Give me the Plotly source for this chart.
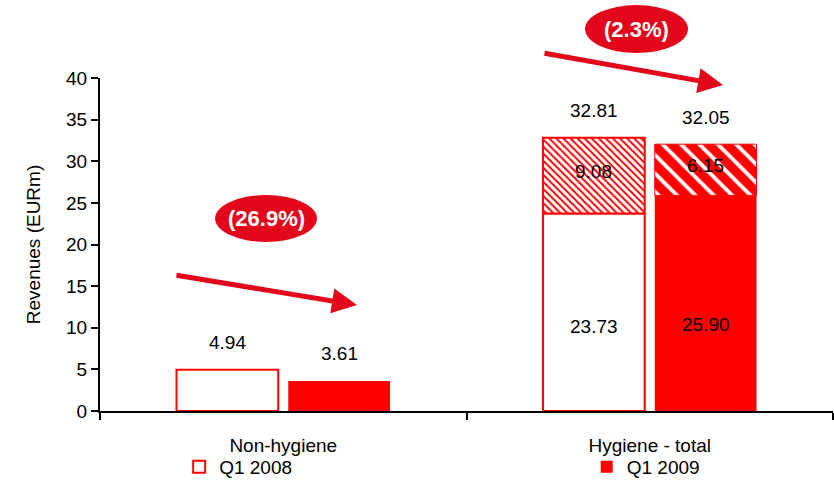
import plotly.graph_objects as go

# Revenue split, EURm
categories = ["Non-hygiene", "Hygiene - total"]
base_2008 = [4.94, 23.73]
top_2008 = [None, 9.08]
base_2009 = [3.61, 25.90]
top_2009 = [None, 6.15]
series_names = ["Q1 2008", "Q1 2009"]
y_ticks = [0, 5, 10, 15, 20, 25, 30, 35, 40]

RED = "#FF0000"
CALLOUT_RED = "#E2071A"
FONT = "Liberation Sans, Arial, sans-serif"
FS = 19
BARGAP = 0.39
BARGROUPGAP = 0.09


def totals(base, top):
    return [b + (t or 0) for b, t in zip(base, top)]


tot_2008 = totals(base_2008, top_2008)
tot_2009 = totals(base_2009, top_2009)

top_x = [c for c, t in zip(categories, top_2008) if t is not None]

fig = go.Figure()

fig.add_trace(go.Bar(
    x=categories, y=base_2008, name=series_names[0], offsetgroup="a", legend="legend",
    marker=dict(color="white", line=dict(color=RED, width=2)),
))
fig.add_trace(go.Bar(
    x=top_x, y=[t for t in top_2008 if t is not None],
    base=[b for b, t in zip(base_2008, top_2008) if t is not None],
    offsetgroup="a", showlegend=False,
    marker=dict(color="white", line=dict(color=RED, width=2),
                pattern=dict(shape="\\", fgcolor=RED, bgcolor="white",
                             size=5, solidity=0.4, fillmode="replace")),
))
fig.add_trace(go.Bar(
    x=categories, y=base_2009, name=series_names[1], offsetgroup="b", legend="legend2",
    marker=dict(color=RED, line=dict(color=RED, width=0)),
))
fig.add_trace(go.Bar(
    x=top_x, y=[t for t in top_2009 if t is not None],
    base=[b for b, t in zip(base_2009, top_2009) if t is not None],
    offsetgroup="b", showlegend=False,
    marker=dict(color=RED, line=dict(color=RED, width=1),
                pattern=dict(shape="\\", fgcolor="white", bgcolor=RED,
                             size=13, solidity=0.3, fillmode="replace")),
))

# centre of each bar within its category slot
half = (1 - BARGAP) / 4
offsets = [-half, half]
inner_shift = [-14, -21]

annotations = []
label_font = dict(family=FONT, size=FS, color="black")
for s, (base, top, tot) in enumerate([(base_2008, top_2008, tot_2008),
                                      (base_2009, top_2009, tot_2009)]):
    for i in range(len(categories)):
        x = i + offsets[s]
        annotations.append(dict(x=x, y=tot[i], xref="x", yref="y",
                                text=f"{tot[i]:.2f}", showarrow=False,
                                yshift=27, font=label_font))
        if top[i] is not None:
            annotations.append(dict(x=x, y=base[i] / 2, xref="x", yref="y",
                                    text=f"{base[i]:.2f}", showarrow=False,
                                    yshift=inner_shift[s], font=label_font))
            annotations.append(dict(x=x, y=base[i] + top[i] / 2, xref="x", yref="y",
                                    text=f"{top[i]:.2f}", showarrow=False,
                                    yshift=4, font=label_font))

# change callouts: ellipse bounds (paper), arrow tip (paper) and tail offset (px)
changes = [(tot_2009[i] - tot_2008[i]) / tot_2008[i] * 100 for i in range(len(categories))]
callouts = [
    dict(ellipse=(0.157, 0.296, 0.5075, 0.6486), tip=(0.3506, 0.3183), tail=(-182, -30)),
    dict(ellipse=(0.6617, 0.8022, 1.075, 1.219), tip=(0.850, 0.979), tail=(-180, -32)),
]
shapes = []
for chg, c in zip(changes, callouts):
    x0, x1, y0, y1 = c["ellipse"]
    shapes.append(dict(type="circle", xref="paper", yref="paper",
                       x0=x0, x1=x1, y0=y0, y1=y1,
                       fillcolor=CALLOUT_RED, line=dict(width=0)))
    pct = f"({abs(chg):.1f}%)" if chg < 0 else f"{chg:.1f}%"
    annotations.append(dict(x=(x0 + x1) / 2, y=(y0 + y1) / 2, xref="paper", yref="paper",
                            xanchor="center", yanchor="middle",
                            text=f"<b>{pct}</b>", showarrow=False,
                            font=dict(family=FONT, size=22, color="white")))
    annotations.append(dict(x=c["tip"][0], y=c["tip"][1], xref="paper", yref="paper",
                            ax=c["tail"][0], ay=c["tail"][1], text="",
                            showarrow=True, arrowhead=2, arrowsize=1.0,
                            arrowwidth=5, arrowcolor=CALLOUT_RED, standoff=0))

legend_style = dict(orientation="h", y=-0.168, xanchor="left", yanchor="middle",
                    font=dict(family=FONT, size=FS, color="black"),
                    bgcolor="rgba(0,0,0,0)", borderwidth=0, tracegroupgap=0)

fig.update_layout(
    width=834, height=482,
    margin=dict(l=100, r=1, t=78, b=71, autoexpand=False),
    paper_bgcolor="white", plot_bgcolor="white",
    barmode="group", bargap=BARGAP, bargroupgap=BARGROUPGAP,
    font=dict(family=FONT, size=FS, color="black"),
    showlegend=True,
    legend=dict(x=0.108, **legend_style),
    legend2=dict(x=0.664, **legend_style),
    shapes=shapes,
    annotations=annotations,
)
fig.update_xaxes(
    type="category", showline=True, linecolor="black", linewidth=2,
    ticks="outside", tickson="boundaries", ticklen=7, tickwidth=2, tickcolor="black",
    ticklabelstandoff=16, showgrid=False, zeroline=False,
    tickfont=dict(family=FONT, size=FS),
)
fig.update_yaxes(
    range=[0, 40], tickvals=y_ticks, showline=True, linecolor="black", linewidth=2,
    ticks="outside", ticklen=7, tickwidth=2, tickcolor="black",
    showgrid=False, zeroline=False,
    tickfont=dict(family=FONT, size=FS),
    title=dict(text="Revenues (EURm)", standoff=20, font=dict(family=FONT, size=FS)),
)

fig.write_html("out.html")
